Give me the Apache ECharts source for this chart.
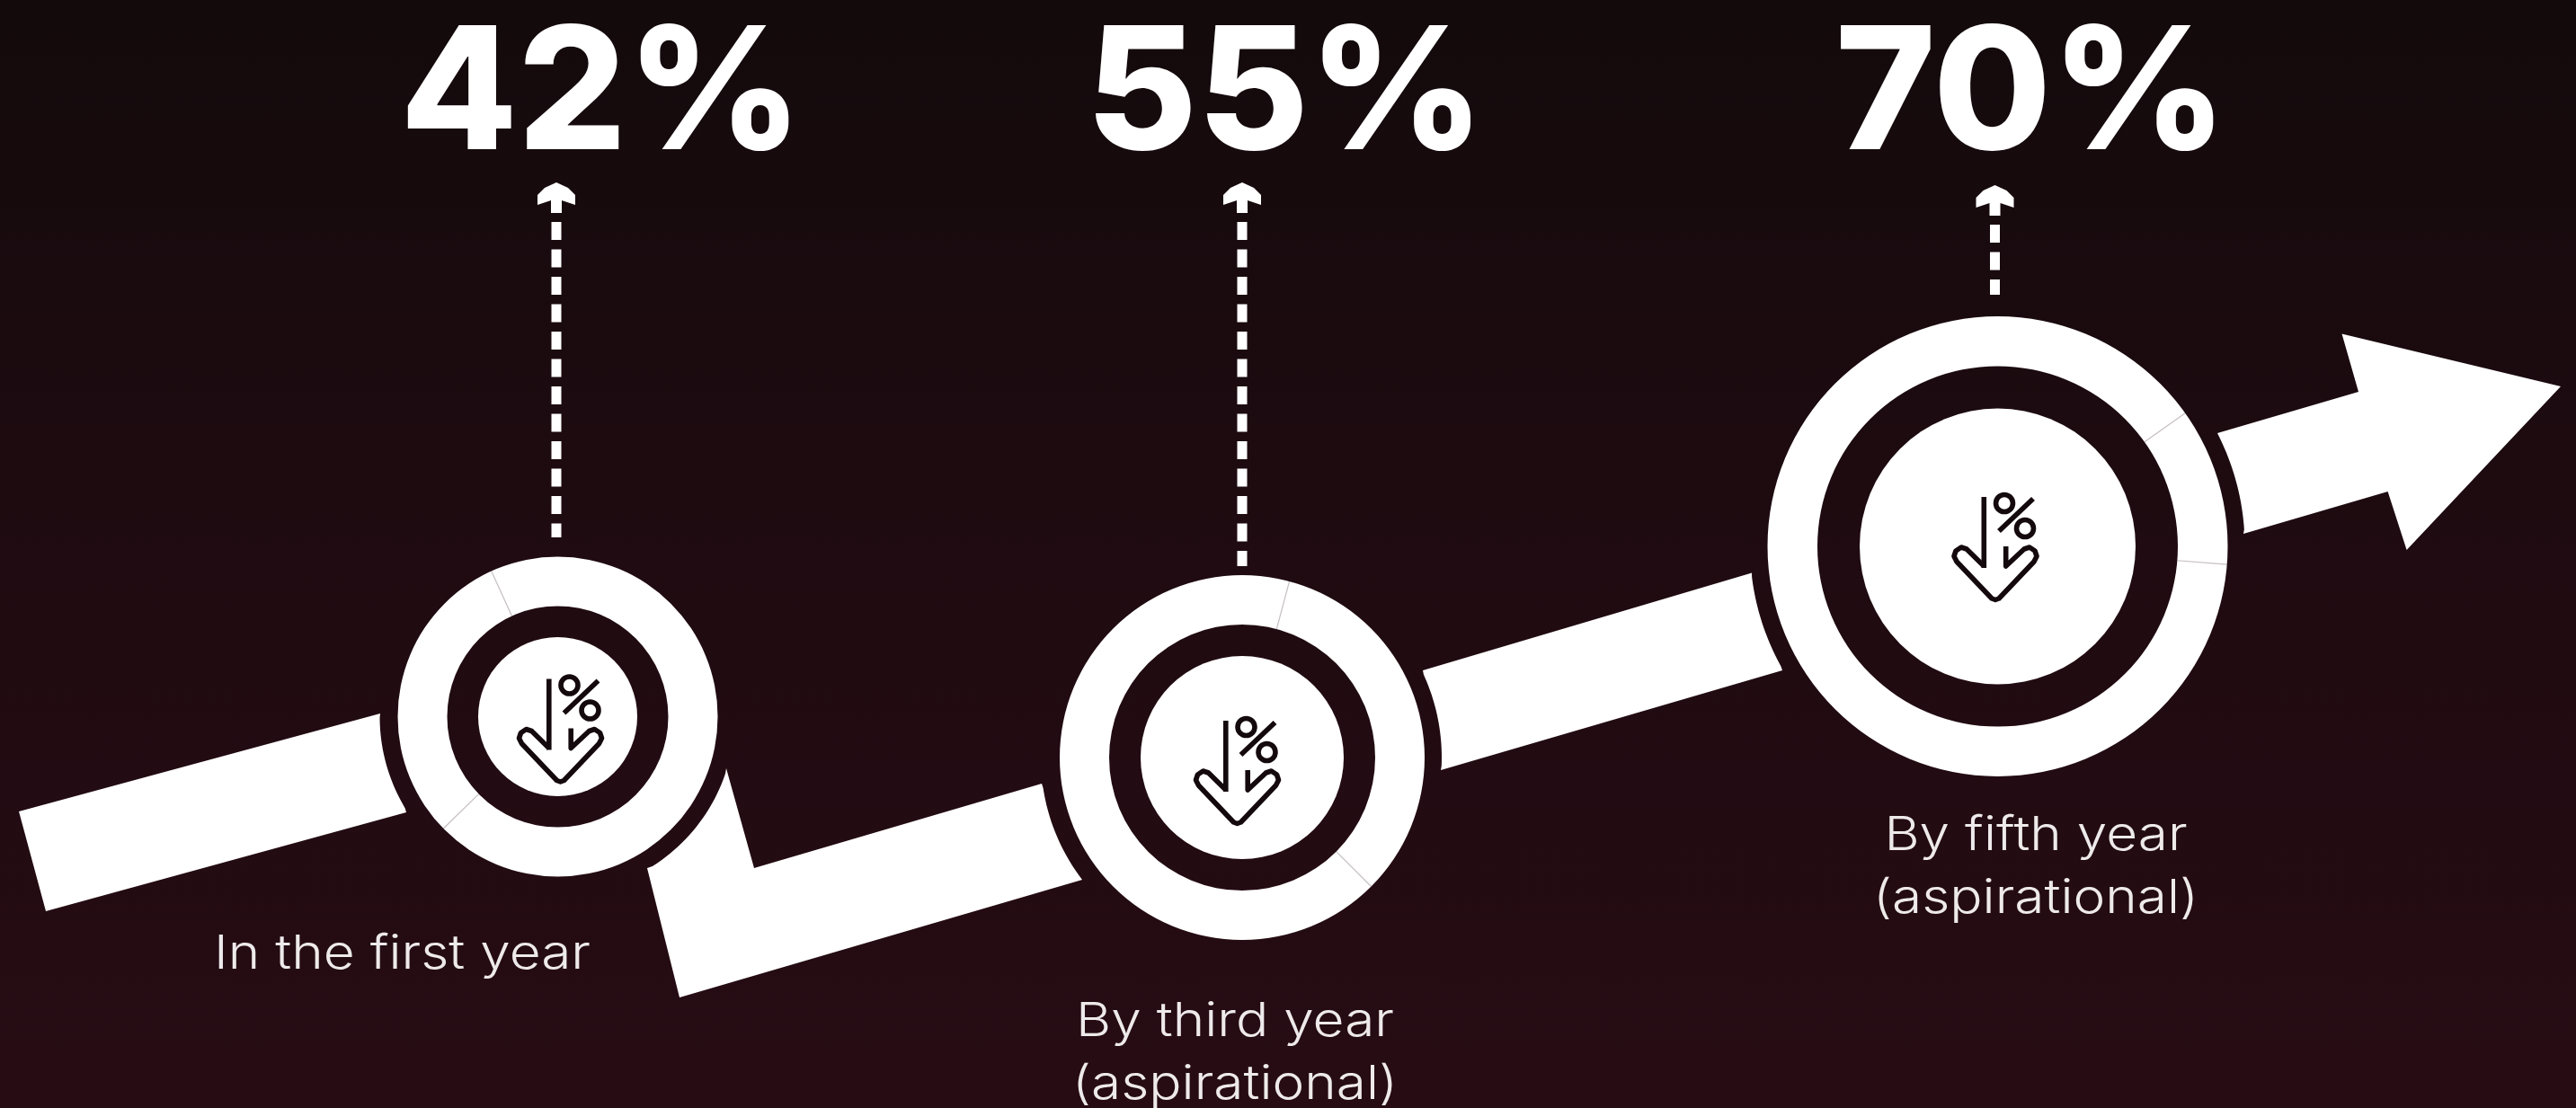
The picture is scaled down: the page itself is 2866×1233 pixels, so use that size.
<!DOCTYPE html>
<html><head><meta charset="utf-8">
<style>html,body{margin:0;padding:0;background:#1c0b10;overflow:hidden}#c{width:2866px;height:1233px}</style>
<script src="https://cdn.jsdelivr.net/npm/echarts@6/dist/echarts.min.js"></script>
</head><body><div id="c"></div>
<script>
// chart content
const categories = ['In the first year', 'By third year\n(aspirational)', 'By fifth year\n(aspirational)'];
const percentValues = [42, 55, 70];

// layout (in page-sized axis units), kept apart from the values
const ringX = [620.5, 1382, 2222.5];
const ringY = [797.5, 843, 608];
const ringOuter = [178, 203, 256];
const ringInner = [123, 148, 200.5];
const discRadius = [88.5, 113, 153.5];
const iconTipOffset = [[3, 73], [-5.5, 74], [-2.5, 60]];
const seamAngles = [[335.5, 225.6], [15, 135], [54.6, 94.5]];
const percentX = [669, 1430, 2260];
const percentY = 109;
const captionX = [447.5, 1374, 2265];
const captionY = [1053, 1128, 921];
const arrowX = [619, 1382, 2219.5];
const arrowTop = [203, 203, 206];
const dashBottom = [598, 630, 328];

const WHITE = '#ffffff';
const arcs = {
  seg1: [[21, 903], [423, 794], 'arc', 0, 198, [452, 904], [51, 1014]],
  seg2: [[756, 1110], [720, 966], 'arc', 0, 197, [808, 855], [839, 966], [1159, 872], 'arc', 1, 224, [1204, 979]],
  seg3: [[1583, 746], [1949, 637.5], 'arc', 2, 275.5, [1983, 746], [1603, 857], 'arc', 1, 222, [1583, 746]],
  seg4: [[2467, 482], [2624, 436], [2605.5, 371.5], [2849, 430], [2677.6, 612], [2656.6, 547], [2496, 594], 'arc', 2, 275, [2467, 482]]
};

function expand(spec) {
  const out = [];
  for (let i = 0; i < spec.length; i++) {
    const s = spec[i];
    if (s === 'arc') {
      const c = [ringX[spec[i + 1]], ringY[spec[i + 1]]];
      const R = spec[i + 2];
      const from = out[out.length - 1];
      const to = spec[i + 3];
      let a0 = Math.atan2(from[1] - c[1], from[0] - c[0]);
      let a1 = Math.atan2(to[1] - c[1], to[0] - c[0]);
      let d = a1 - a0;
      while (d > Math.PI) d -= 2 * Math.PI;
      while (d < -Math.PI) d += 2 * Math.PI;
      for (let k = 1; k < 24; k++) {
        const a = a0 + d * k / 24;
        out.push([c[0] + R * Math.cos(a), c[1] + R * Math.sin(a)]);
      }
      i += 2;
    } else out.push(s);
  }
  return out;
}

function renderBand(params, api) {
  const name = api.value(0);
  const pts = expand(arcs[Object.keys(arcs)[name]]).map(p => api.coord(p));
  return { type: 'polygon', shape: { points: pts }, style: { fill: WHITE } };
}

function renderMilestone(params, api) {
  const i = api.value(0);
  const value = api.value(1);
  const c = api.coord([ringX[i], ringY[i]]);
  const px = r => api.size([r, 0])[0];
  const kids = [];
  // ring and disc
  kids.push({ type: 'ring', shape: { cx: c[0], cy: c[1], r: px(ringOuter[i]), r0: px(ringInner[i]) }, style: { fill: WHITE } });
  kids.push({ type: 'circle', shape: { cx: c[0], cy: c[1], r: px(discRadius[i]) }, style: { fill: WHITE } });
  // faint seams in the ring
  seamAngles[i].forEach(deg => {
    const a = (deg - 90) * Math.PI / 180;
    kids.push({ type: 'line', shape: {
      x1: c[0] + px(ringInner[i]) * Math.cos(a), y1: c[1] + px(ringInner[i]) * Math.sin(a),
      x2: c[0] + px(ringOuter[i]) * Math.cos(a), y2: c[1] + px(ringOuter[i]) * Math.sin(a)
    }, style: { stroke: 'rgba(90,70,75,0.35)', lineWidth: 1.2 } });
  });
  // percent-down icon, relative to the chevron tip
  const t = [c[0] + iconTipOffset[i][0], c[1] + iconTipOffset[i][1]];
  const ic = { stroke: '#14090c', lineWidth: 5.6, fill: null, lineJoin: 'round', lineCap: 'butt' };
  const rel = arr => arr.map(p => [t[0] + p[0], t[1] + p[1]]);
  kids.push({ type: 'polyline', shape: { points: rel([[-12.7, -115], [-12.7, -36]]) }, style: ic });
  kids.push({ type: 'polyline', shape: { points: rel([[-12.7, -38], [-32, -57], [-38, -59], [-44, -55], [-46, -49], [-43, -43], [-4, -2], [0, -0.5], [4, -2], [43, -43], [46, -49], [44, -55], [38, -59], [32, -57], [11.7, -38], [11.7, -60]]) }, style: ic });
  kids.push({ type: 'circle', shape: { cx: t[0] + 10, cy: t[1] - 108, r: 9.5 }, style: ic });
  kids.push({ type: 'circle', shape: { cx: t[0] + 33, cy: t[1] - 80, r: 9.5 }, style: ic });
  kids.push({ type: 'polyline', shape: { points: rel([[4, -77], [42, -113]]) }, style: ic });
  // dashed arrow
  const ax = api.coord([arrowX[i], arrowTop[i]]);
  const ab = api.coord([arrowX[i], dashBottom[i]]);
  kids.push({ type: 'polyline', shape: { points: [[ax[0], ax[1] + 44], [ax[0], ab[1]]] }, style: { stroke: WHITE, lineWidth: 11, lineDash: [20, 10.5], fill: null } });
  kids.push({ type: 'polygon', shape: { points: [
    [ax[0], ax[1]], [ax[0] + 13, ax[1] + 6], [ax[0] + 21, ax[1] + 14], [ax[0] + 21, ax[1] + 25], [ax[0] + 6, ax[1] + 20],
    [ax[0] + 6, ax[1] + 34], [ax[0] - 6, ax[1] + 34], [ax[0] - 6, ax[1] + 20], [ax[0] - 21, ax[1] + 25], [ax[0] - 21, ax[1] + 14], [ax[0] - 13, ax[1] + 6]
  ] }, style: { fill: WHITE } });
  // big percentage
  const pc = api.coord([percentX[i], percentY]);
  kids.push({ type: 'text', x: pc[0], y: pc[1], style: { text: value + '%', x: 0, y: 0, align: 'center', verticalAlign: 'middle', fill: WHITE, fontFamily: 'Inter', fontWeight: 800, fontSize: 190 } });
  // caption
  const cc = api.coord([captionX[i], captionY[i]]);
  kids.push({ type: 'text', x: cc[0], y: cc[1] - 26, scaleX: 1.16, style: { text: categories[i], x: 0, y: 0, align: 'center', verticalAlign: 'top', fill: '#eeeaeb', fontFamily: 'Inter', fontWeight: 300, fontSize: 52, lineHeight: 70 } });
  return { type: 'group', children: kids };
}

const chart = echarts.init(document.getElementById('c'), null, { renderer: 'canvas', width: 2866, height: 1233 });
chart.setOption({
  animation: false,
  backgroundColor: { type: 'linear', x: 0, y: 0, x2: 0, y2: 1, colorStops: [
    { offset: 0, color: '#130a0c' }, { offset: 0.5, color: '#1f0b11' }, { offset: 1, color: '#270c14' } ] },
  grid: { left: 0, right: 0, top: 0, bottom: 0 },
  xAxis: { type: 'value', min: 0, max: 2866, show: false },
  yAxis: { type: 'value', min: 0, max: 1233, inverse: true, show: false },
  series: [
    { type: 'custom', name: 'Path', silent: true, clip: false, coordinateSystem: 'cartesian2d', renderItem: renderBand, data: [[0], [1], [2], [3]] },
    { type: 'custom', name: 'Reduction', silent: true, clip: false, coordinateSystem: 'cartesian2d', renderItem: renderMilestone,
      encode: { x: 0, y: 1 }, data: percentValues.map((v, i) => [i, v]) }
  ]
});
</script></body></html>
